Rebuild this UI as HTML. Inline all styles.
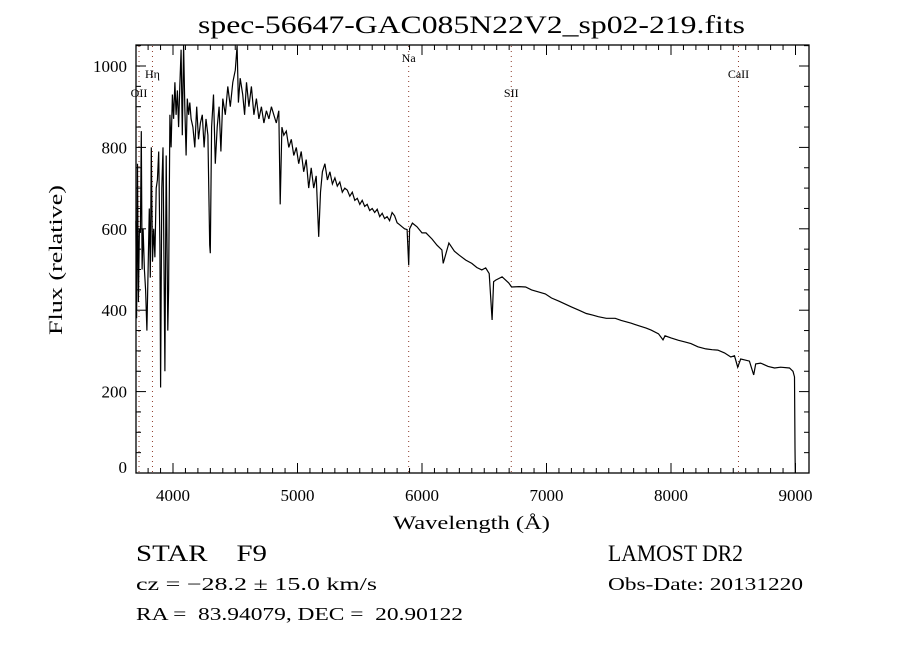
<!DOCTYPE html>
<html><head><meta charset="utf-8"><style>
body{margin:0;background:#fff;width:900px;height:650px;overflow:hidden}
svg{display:block}
text{font-family:"Liberation Serif",serif;fill:#000}
</style></head><body>
<svg id="chart" width="900" height="650" viewBox="0 0 900 650">
<rect width="900" height="650" fill="#fff"/>
<text x="198" y="33" font-size="25" textLength="547" lengthAdjust="spacingAndGlyphs">spec-56647-GAC085N22V2_sp02-219.fits</text>
<g id="lines"></g>
<g id="ticks"></g>
<path id="spec" fill="none" stroke="#000" stroke-width="1.2"/>
<rect x="136" y="45" width="673" height="428" fill="none" stroke="#000" stroke-width="1.3"/>
<text x="393" y="529" font-size="19" textLength="157" lengthAdjust="spacingAndGlyphs">Wavelength (Å)</text>
<text transform="translate(62,335) rotate(-90)" font-size="19" textLength="150" lengthAdjust="spacingAndGlyphs">Flux (relative)</text>
<text x="136" y="561" font-size="23" textLength="131" lengthAdjust="spacingAndGlyphs">STAR&#160;&#160;&#160;&#160;F9</text>
<text x="608" y="561" font-size="23" textLength="135" lengthAdjust="spacingAndGlyphs">LAMOST DR2</text>
<text x="136" y="590" font-size="18" textLength="241" lengthAdjust="spacingAndGlyphs">cz = −28.2 ± 15.0 km/s</text>
<text x="608" y="590" font-size="18" textLength="195" lengthAdjust="spacingAndGlyphs">Obs-Date: 20131220</text>
<text x="136" y="620" font-size="18" textLength="327" lengthAdjust="spacingAndGlyphs">RA =&#160;&#160;83.94079, DEC =&#160;&#160;20.90122</text>
</svg>
<script>
const wave=[3702,3708,3715,3722,3730,3738,3745,3752,3760,3770,3780,3790,3800,3810,3818,3826,3835,3845,3855,3865,3875,3885,3895,3900,3910,3920,3935,3945,3958,3965,3975,3985,3995,4005,4015,4025,4035,4045,4055,4065,4075,4085,4095,4105,4115,4125,4135,4145,4160,4175,4190,4205,4220,4235,4250,4265,4280,4295,4300,4310,4325,4340,4355,4370,4385,4400,4420,4440,4460,4480,4500,4515,4525,4540,4560,4575,4590,4610,4630,4650,4670,4690,4710,4730,4750,4770,4790,4810,4830,4850,4861,4875,4890,4910,4930,4950,4970,4990,5010,5030,5050,5070,5090,5110,5130,5150,5170,5185,5200,5220,5240,5260,5280,5300,5320,5340,5360,5380,5400,5420,5440,5460,5480,5500,5520,5540,5560,5580,5600,5620,5640,5660,5680,5700,5720,5740,5760,5780,5800,5820,5840,5860,5880,5893,5900,5923,5960,6000,6032,6080,6120,6160,6170,6216,6260,6300,6352,6400,6440,6480,6512,6540,6563,6575,6592,6643,6696,6720,6780,6832,6880,6936,6990,7040,7100,7150,7200,7260,7320,7370,7416,7480,7552,7600,7680,7740,7800,7840,7900,7936,7952,8000,8060,8112,8160,8216,8280,8330,8376,8430,8480,8510,8536,8560,8592,8630,8664,8680,8720,8780,8832,8880,8952,8980,8992,8996,8998];
const flux=[620,380,760,420,600,590,840,500,600,500,450,350,500,650,480,800,520,600,530,700,720,790,560,210,700,800,250,780,350,450,880,800,930,870,960,880,940,850,950,1040,830,1060,900,780,920,880,910,870,850,800,900,820,860,880,800,870,830,560,540,850,930,760,850,900,790,920,880,950,900,960,990,1050,910,970,930,880,960,900,950,880,920,870,900,860,890,870,900,880,860,890,660,850,830,840,800,820,780,800,760,790,740,770,700,750,700,730,580,690,740,760,720,740,710,725,705,715,690,700,695,680,690,670,675,660,670,655,660,645,650,640,648,630,638,625,630,620,640,632,615,610,605,600,598,510,600,614,605,590,590,575,560,548,515,565,545,535,523,515,505,499,504,490,376,470,474,482,467,457,458,457,450,445,440,430,422,415,408,400,392,388,384,380,380,375,368,362,356,351,342,327,337,332,326,322,318,310,305,303,302,295,285,288,260,280,278,275,241,268,270,262,258,260,258,250,236,60,0];
const tickX=[4000,5000,6000,7000,8000,9000];
const tickY=[0,200,400,600,800,1000];
const lineNames=["OII","Hη","Na","SII","CaII"];
const lineWaves=[3727,3835,5893,6717,8542];
const labelY=[97,78,62,97,78];
const NS="http://www.w3.org/2000/svg";
const X=w=>173+(w-4000)*0.1245;
const Y=f=>473-f*0.407;
function mk(tag,attrs,parent){const e=document.createElementNS(NS,tag);for(const k in attrs)e.setAttribute(k,attrs[k]);parent.appendChild(e);return e;}
let d='';
for(let i=0;i<wave.length;i++){d+=(i?'L':'M')+X(wave[i]).toFixed(1)+' '+Math.min(473,Math.max(45,Y(flux[i]))).toFixed(1);}
document.getElementById('spec').setAttribute('d',d);
const lg=document.getElementById('lines');
for(let i=0;i<lineWaves.length;i++){
  const x=X(lineWaves[i]);
  const l=mk('line',{x1:x,x2:x,y1:46,y2:472,stroke:'#8b3a2a','stroke-width':1,'stroke-dasharray':'1,4'},lg);
  
  
  const t=mk('text',{x:x,y:labelY[i],'font-size':12,'text-anchor':'middle'},lg);
  t.textContent=lineNames[i];
  
  
}
const tg=document.getElementById('ticks');
for(let w=3800;w<=9000;w+=100){
  const x=X(w);const major=w%1000===0;const len=major?10:5;
  mk('line',{x1:x,x2:x,y1:473,y2:473-len,stroke:'#000'},tg);
  mk('line',{x1:x,x2:x,y1:45,y2:45+len,stroke:'#000'},tg);
}
for(let f=0;f<=1050;f+=50){
  const y=Y(f);const major=f%200===0;const len=major?10:5;
  mk('line',{x1:136,x2:136+len,y1:y,y2:y,stroke:'#000'},tg);
  mk('line',{x1:809,x2:809-len,y1:y,y2:y,stroke:'#000'},tg);
}
for(const v of tickX){
  const t=mk('text',{x:X(v),y:501,'font-size':17,'text-anchor':'middle','font-family':'Liberation Sans, sans-serif'},tg);
  t.textContent=v;
  
  
}
for(const v of tickY){
  const t=mk('text',{x:127,y:Math.min(Y(v)+6,473),'font-size':17,'text-anchor':'end','font-family':'Liberation Sans, sans-serif'},tg);
  t.textContent=v;
  
  
}
</script>
</body></html>
